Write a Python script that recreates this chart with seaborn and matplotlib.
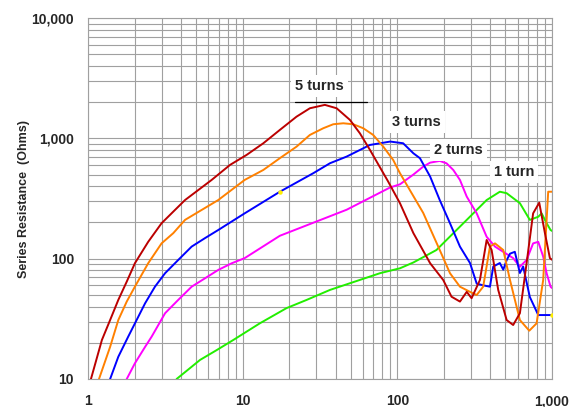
import matplotlib
matplotlib.use("Agg")
import matplotlib.pyplot as plt
import matplotlib.ticker as mticker
import seaborn as sns

# Series resistance vs frequency
red_x = [1.045, 1.23, 1.39, 1.57, 1.78, 2.01, 2.45, 2.99, 3.56, 4.24, 6.3, 8.28, 10.6, 13.6, 17.4,
         22.3, 27.2, 34, 40.5, 49.4, 57.3, 66.5, 87, 104, 127, 163, 198, 224, 254, 281, 302, 342,
         378, 407, 449, 509, 561, 620, 685, 755, 827, 900, 969, 1000]
red_y = [10, 21.1, 30.9, 45.4, 64.4, 91.6, 138, 197, 246, 307, 451, 601, 728, 910, 1175,
         1514, 1778, 1897, 1778, 1422, 1100, 802, 440, 289, 163, 91.6, 66.5, 48.3, 44, 53, 46.9, 66.5,
         143, 118, 55, 30.9, 28.1, 35.2, 91.6, 238, 292, 163, 101, 98]

orange_x = [1.178, 1.39, 1.57, 1.78, 2.01, 2.45, 2.99, 3.56, 4.24, 5.43, 6.95, 10.3, 13.6, 17.4,
            22.3, 27.2, 33.2, 38.5, 44.7, 51.9, 60.2, 69.8, 81.1, 94, 104, 147, 188, 219, 254, 295,
            326, 359, 397, 428, 484, 535, 620, 713, 795, 877, 923, 945, 1000]
orange_y = [10, 18.5, 30.9, 44, 58.5, 91.6, 134, 163, 210, 254, 307, 451, 546, 684,
            853, 1067, 1213, 1309, 1334, 1309, 1213, 1067, 853, 661, 513, 240, 118, 75.7, 58.5, 53,
            49.9, 58.5, 126, 134, 118, 66.5, 30.9, 25.2, 29, 66.5, 210, 360, 360]

blue_x = [1.39, 1.57, 1.82, 2.34, 2.71, 3.15, 3.83, 4.68, 5.7, 6.95, 10.3, 17.4, 28.6, 36.7, 47,
          66.5, 90, 109, 127, 140, 163, 188, 219, 254, 295, 326, 360, 397, 417, 460, 484, 509,
          535, 575, 620, 651, 719, 815, 1000]
blue_y = [10, 15.3, 22.5, 42.6, 58.5, 75.7, 97.5, 126, 148, 173, 238, 360, 513, 621, 705,
          881, 940, 910, 751, 684, 481, 307, 197, 126, 92, 62, 60, 58.5, 86, 92, 81, 97,
          110, 114, 76, 86, 48, 34, 34]

magenta_x = [1.78, 2.01, 2.34, 2.58, 3.15, 3.83, 4.68, 5.7, 6.95, 8.5, 10.3, 17.4, 47, 89.6, 104,
             127, 147, 163, 188, 208, 230, 254, 281, 326, 378, 428, 484, 561, 620, 685, 755, 815,
             877, 923, 979, 1000]
magenta_y = [10, 13.5, 18.5, 22.5, 35.2, 45.4, 58.5, 68.6, 80.6, 91.6, 101, 155, 255, 390, 415,
             500, 582, 628, 649, 620, 546, 451, 328, 238, 152, 126, 114, 101, 85.7, 97.5, 134, 138,
             104, 75.7, 58.5, 57]

green_x = [3.74, 5.3, 6.8, 8.7, 12.9, 19.2, 25.9, 36.7, 77.2, 104, 127, 179, 208, 281, 378, 460,
           509, 620, 719, 815, 857, 923, 979, 1000]
green_y = [10, 14.4, 17.4, 21.1, 29, 38.8, 45.4, 55, 75.7, 83.2, 93, 118, 143, 210, 307, 360,
           350, 289, 210, 223, 238, 197, 173, 170]

marker_x = [17.4, 1000]
marker_y = [360, 34]

labels = ["5 turns", "3 turns", "2 turns", "1 turn"]
label_x = [21.8, 92.3, 172.6, 421]
label_y = [2730, 1368, 802, 526]

x_ticks = [1, 10, 100, 1000]
x_ticklabels = ["1", "10", "100", "1,000"]
y_ticks = [10, 100, 1000, 10000]
y_ticklabels = ["10", "100", "1,000", "10,000"]

sns.set_style("white")
plt.rcParams['font.family'] = ['Liberation Sans', 'DejaVu Sans']

fig = plt.figure(figsize=(5.7, 4.07), dpi=100)
ax = fig.add_axes([88 / 570, 28 / 407, 464 / 570, 361 / 407])

series = [
    (green_x, green_y, "#22ee00"),
    (magenta_x, magenta_y, "#ff00ff"),
    (blue_x, blue_y, "#0000ff"),
    (orange_x, orange_y, "#ff8000"),
    (red_x, red_y, "#bb0000"),
]
for xs, ys, col in series:
    sns.lineplot(x=xs, y=ys, ax=ax, color=col, linewidth=1.4, sort=False, zorder=3)

ax.scatter(marker_x, marker_y, s=5, color="#ffee00", zorder=4)

ax.set_xscale("log")
ax.set_yscale("log")
ax.set_xlim(1, 1000)
ax.set_ylim(10, 10000)

ax.xaxis.set_major_locator(mticker.FixedLocator(x_ticks))
ax.yaxis.set_major_locator(mticker.FixedLocator(y_ticks))
ax.xaxis.set_minor_locator(mticker.LogLocator(base=10, subs=range(2, 10)))
ax.yaxis.set_minor_locator(mticker.LogLocator(base=10, subs=range(2, 10)))
ax.xaxis.set_minor_formatter(mticker.NullFormatter())
ax.yaxis.set_minor_formatter(mticker.NullFormatter())
ax.set_xticklabels(x_ticklabels, fontsize=10, fontweight="bold")
ax.set_yticklabels(y_ticklabels, fontsize=10, fontweight="bold")

ax.grid(True, which="both", color="#a0a0a0", linewidth=0.8, zorder=1)
ax.tick_params(which="both", direction="out", length=3, width=0.8, color="#a0a0a0")
ax.tick_params(axis="x", which="major", pad=8)
ax.tick_params(axis="y", which="major", pad=7)
for sp in ax.spines.values():
    sp.set_color("#a0a0a0")
    sp.set_linewidth(0.8)

ax.set_ylabel("Series Resistance  (Ohms)", fontsize=9, fontweight="bold", labelpad=1)

for txt, lx, ly in zip(labels, label_x, label_y):
    ax.text(lx, ly, txt, fontsize=10.5, fontweight="bold", va="center", ha="left", zorder=5,
            bbox=dict(facecolor="white", edgecolor="none", pad=3))

# underline below the "5 turns" label
ax.plot([21.8, 63.6], [2018, 2018], color="black", linewidth=0.9, zorder=5)

fig.savefig("out.png", dpi=100)
